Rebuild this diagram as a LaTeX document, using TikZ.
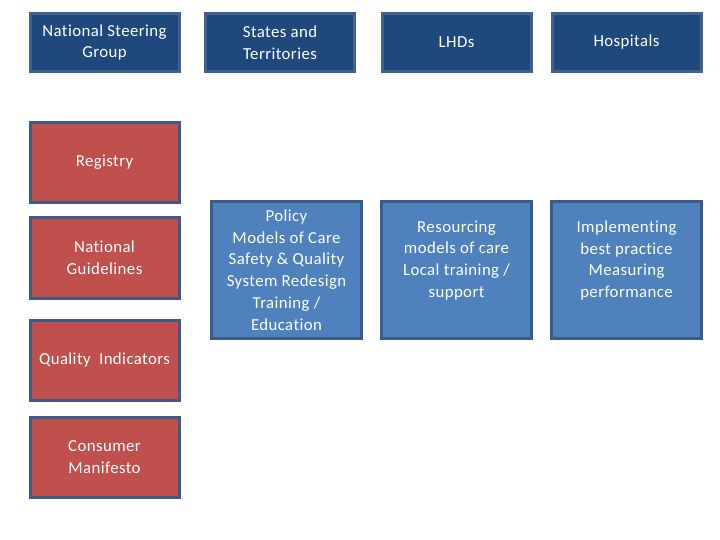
\documentclass[tikz,border=0pt]{standalone}
\usepackage{fontspec}
\setmainfont[Ligatures=NoCommon,LetterSpace=2.5]{Carlito}
\definecolor{navyfill}{HTML}{1F497D}
\definecolor{navyedge}{HTML}{41618F}
\definecolor{redfill}{HTML}{C0504D}
\definecolor{rededge}{HTML}{3F5A89}
\definecolor{bluefill}{HTML}{4F81BD}
\definecolor{blueedge}{HTML}{385D8A}
\tikzset{
  basebox/.style={draw, line width=3pt, text=white, align=center, inner sep=0pt,
    font=\fontsize{16.8}{21.8}\selectfont},
  navybox/.style={basebox, fill=navyfill, draw=navyedge, minimum width=149pt, minimum height=58pt},
  redbox/.style={basebox, fill=redfill, draw=rededge, minimum width=149pt, minimum height=80pt},
  bluebox/.style={basebox, fill=bluefill, draw=blueedge, minimum width=150pt, minimum height=136pt}
}
\begin{document}
\begin{tikzpicture}[x=1pt,y=-1pt]
\useasboundingbox (0,0) rectangle (720,540);
% top row
\node[navybox] (nsg) at (104.5,42.5) {National Steering\\Group};
\node[navybox] (st) at (280,42.5) {States and\\Territories};
\node[navybox] (lhd) at (456.5,42.5) {LHDs};
\node[navybox] (hosp) at (626.5,42.5) {Hospitals};
% red column
\node[redbox] (reg) at (104.5,162.5) {Registry};
\node[redbox] (ng) at (104.5,258) {National\\Guidelines};
\node[redbox] (qi) at (104.5,360.5) {Quality\ \ Indicators};
\node[redbox] (cm) at (104.5,457) {Consumer\\Manifesto};
% blue boxes
\node[bluebox] (pol) at (286.5,270) {Policy\\Models of Care\\Safety \& Quality\\System Redesign\\Training /\\Education};
\node[bluebox] (res) at (456.5,270) {Resourcing\\models of care\\Local training /\\support\\\mbox{}};
\node[bluebox] (imp) at (626.5,270) {Implementing\\best practice\\Measuring\\performance\\\mbox{}};
\end{tikzpicture}
\end{document}
